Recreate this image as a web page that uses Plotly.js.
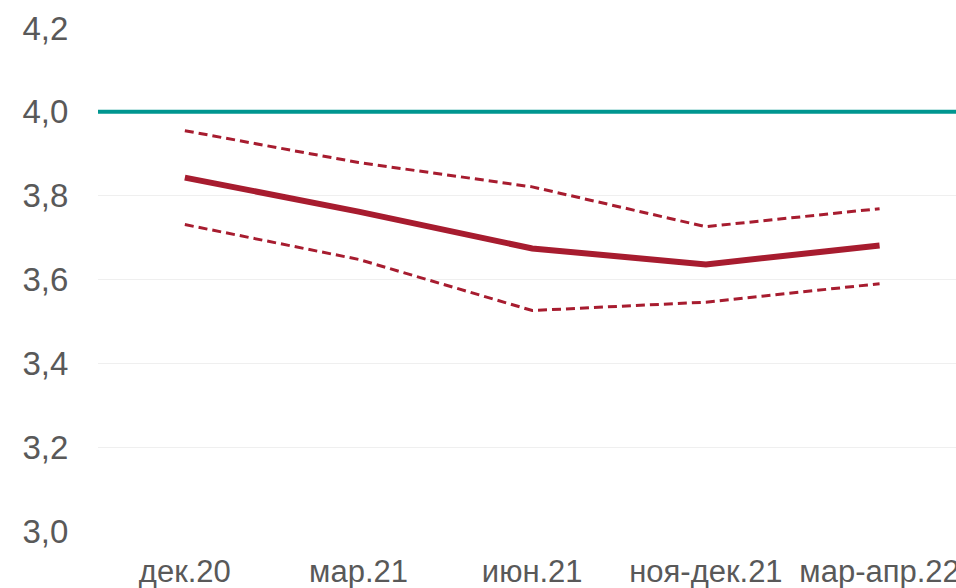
<!DOCTYPE html>
<html>
<head>
<meta charset="utf-8">
<script src="https://cdn.plot.ly/plotly-3.0.1.min.js"></script>
<style>html,body{margin:0;padding:0;overflow:hidden;background:#fff}#chart{width:956px;height:588px}</style>
</head>
<body>
<div id="chart"></div>
<script>
const categories = ["дек.20", "мар.21", "июн.21", "ноя-дек.21", "мар-апр.22"];
const median = [3.843, 3.762, 3.674, 3.636, 3.681];
const upper = [3.955, 3.879, 3.821, 3.726, 3.769];
const lower = [3.731, 3.648, 3.526, 3.546, 3.590];
const target = 4.0;
const yTicks = [3.0, 3.2, 3.4, 3.6, 3.8, 4.0, 4.2];

const red = "#a71c2f";
const idx = categories.map((c, i) => i);

const traces = [
  {x: idx, y: upper, mode: "lines", line: {color: red, width: 3, dash: "9px,5px"}, hoverinfo: "skip"},
  {x: idx, y: lower, mode: "lines", line: {color: red, width: 3, dash: "9px,5px"}, hoverinfo: "skip"},
  {x: idx, y: median, mode: "lines", line: {color: red, width: 6}, hoverinfo: "skip"}
];

const layout = {
  width: 956, height: 588,
  margin: {l: 98, r: 0, t: 28, b: 57},
  paper_bgcolor: "#fff", plot_bgcolor: "#fff",
  showlegend: false,
  separators: ", ",
  font: {family: "Liberation Sans, Arial, sans-serif", color: "#595959", size: 32},
  xaxis: {
    range: [-0.5, 4.44],
    tickmode: "array", tickvals: idx, ticktext: categories,
    showgrid: false, zeroline: false, showline: false,
    ticks: "outside", ticklen: 13, tickcolor: "rgba(0,0,0,0)",
    ticklabeloverflow: "allow",
    tickfont: {size: 31, color: "#595959"}
  },
  yaxis: {
    range: [3.0, 4.2],
    tickmode: "array", tickvals: yTicks, ticktext: yTicks.map(v => v.toFixed(1).replace(".", ",")),
    showgrid: true, gridcolor: "#efefef", gridwidth: 1,
    zeroline: false, showline: false,
    ticks: "outside", ticklen: 22, tickcolor: "rgba(0,0,0,0)",
    tickfont: {size: 33, color: "#595959"}
  },
  shapes: [
    {type: "line", xref: "paper", x0: 0, x1: 1, yref: "y", y0: target, y1: target,
     line: {color: "#009690", width: 4}, layer: "above"}
  ]
};

Plotly.newPlot("chart", traces, layout, {displayModeBar: false, staticPlot: true});
</script>
</body>
</html>
